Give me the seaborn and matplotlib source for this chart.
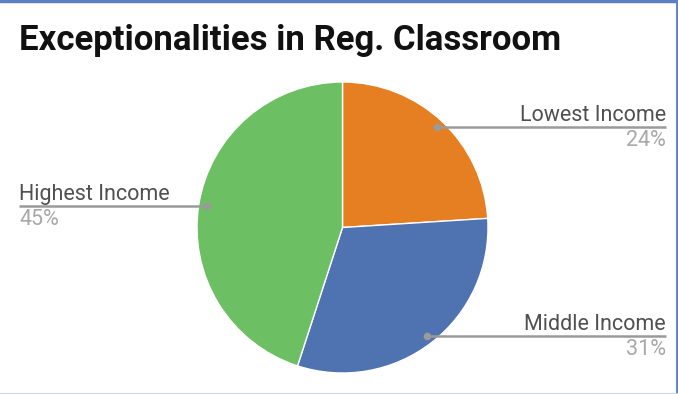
import matplotlib
matplotlib.use("Agg")
import matplotlib.pyplot as plt
import numpy as np
import seaborn as sns

# Data
categories = ["Lowest Income", "Middle Income", "Highest Income"]
shares = [24, 31, 45]
colors = ["#E67E22", "#4F73B0", "#6DBF63"]

sns.set_theme(style="white")
plt.rcParams["font.family"] = ["Roboto", "DejaVu Sans"]

W, H = 678, 394
fig = plt.figure(figsize=(W / 100, H / 100), dpi=100)
ax = fig.add_axes([0, 0, 1, 1])
ax.set_xlim(0, W)
ax.set_ylim(0, H)
ax.set_aspect("equal")
ax.axis("off")

cx, cy, r = 342.5, H - 227.5, 145.5
wedges, _ = ax.pie(shares, colors=colors, startangle=90, counterclock=False,
                   center=(cx, cy), radius=r,
                   wedgeprops=dict(linewidth=1, edgecolor="white"))
ax.set_xlim(0, W)
ax.set_ylim(0, H)

line_col = "#9a9a9a"
for w, name, val in zip(wedges, categories, shares):
    mid = np.deg2rad((w.theta1 + w.theta2) / 2)
    px = cx + 0.945 * r * np.cos(mid)
    py = cy + 0.945 * r * np.sin(mid)
    right = np.cos(mid) > 0
    xend = 666 if right else 19
    ax.plot([px, xend], [py, py], color=line_col, lw=1.8, solid_capstyle="butt", zorder=3)
    ax.plot([px], [py], "o", color=line_col, ms=4.5, zorder=4)
    ha = "right" if right else "left"
    ax.text(xend, py + 6, name, ha=ha, va="baseline", fontsize=15.5, color="#505050")
    ax.text(xend, py - 19, f"{val}%", ha=ha, va="baseline", fontsize=15.5, color="#a8a8a8")

ax.text(19, H - 50, "Exceptionalities in Reg. Classroom", ha="left", va="baseline",
        fontsize=25, fontweight="bold", color="#111111")

# Frame edges
ax.plot([0, W], [H - 1, H - 1], color="#5B7FC0", lw=2.5, clip_on=False)
ax.plot([W - 1, W - 1], [0, H], color="#5B7FC0", lw=2, clip_on=False)
ax.plot([0, W], [0.5, 0.5], color="#c9d3e0", lw=1.5, clip_on=False)

fig.savefig("out.png", dpi=100)
